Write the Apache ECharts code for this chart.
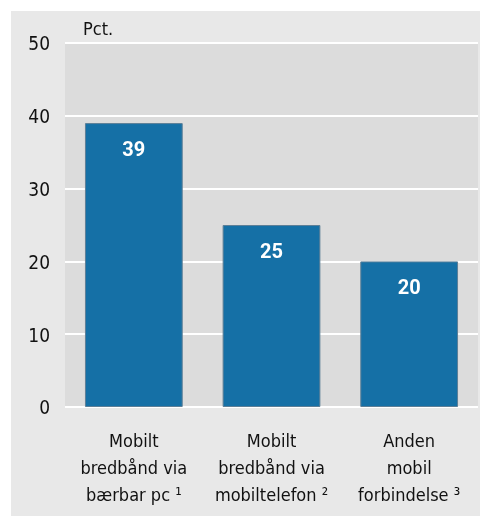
<!DOCTYPE html>
<html><head><meta charset="utf-8">
<script src="https://cdn.jsdelivr.net/npm/echarts@6/dist/echarts.min.js"></script>
<style>html,body{margin:0;padding:0;background:#fff}#c{width:480px;height:516px}</style>
</head><body><div id="c"></div>
<script>
const categories = ['Mobilt\nbredbånd via\nbærbar pc ¹', 'Mobilt\nbredbånd via\nmobiltelefon ²', 'Anden\nmobil\nforbindelse ³'];
const values = [39, 25, 20];
const yTicks = [0, 10, 20, 30, 40, 50];
const unitLabel = 'Pct.';

const FONT = '"DejaVu Sans Condensed", "DejaVu Sans", sans-serif';
const NUMFONT = 'Roboto, "DejaVu Sans Condensed", sans-serif';
const chart = echarts.init(document.getElementById('c'), null, {renderer: 'canvas'});
chart.setOption({
  animation: false,
  graphic: [
    {type: 'rect', z: -10, silent: true, shape: {x: 11, y: 11, width: 469, height: 505}, style: {fill: '#e8e8e8'}},
    {type: 'text', x: 83, y: 30, style: {text: unitLabel, font: '18px ' + FONT, fill: '#111', verticalAlign: 'middle'}}
  ],
  grid: {left: 65, right: 2, top: 43, bottom: 109, show: true, backgroundColor: '#dcdcdc', borderWidth: 0},
  xAxis: {
    type: 'category', data: categories,
    axisLine: {show: false}, axisTick: {show: false},
    axisLabel: {interval: 0, hideOverlap: false, color: '#111', fontSize: 18, fontFamily: FONT, lineHeight: 27, margin: 22}
  },
  yAxis: {
    type: 'value', min: yTicks[0], max: yTicks[yTicks.length - 1], interval: 10,
    axisLine: {show: false}, axisTick: {show: false},
    axisLabel: {
      margin: 15, formatter: '{a|{value}}',
      rich: {a: {color: '#111', fontSize: 19, fontFamily: FONT, padding: [5, 0, 0, 0]}}
    },
    splitLine: {lineStyle: {color: '#ffffff', width: 2}}
  },
  series: [{
    type: 'bar', data: values, barWidth: '71%',
    itemStyle: {color: '#1570a6', borderColor: '#5d7f97', borderWidth: 1},
    label: {show: true, position: 'insideTop', distance: 18, color: '#fff', fontSize: 20, fontWeight: 'bold', fontFamily: NUMFONT}
  }]
});
</script></body></html>
